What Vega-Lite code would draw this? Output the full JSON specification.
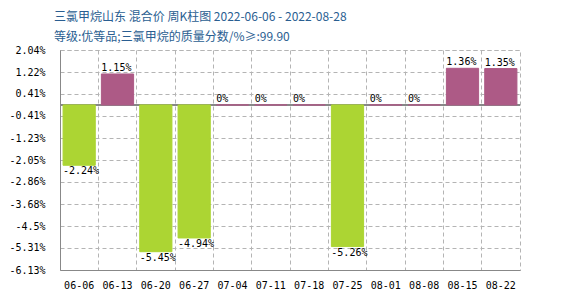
{
  "$schema": "https://vega.github.io/schema/vega-lite/v6.json",
  "width": 460,
  "height": 220,
  "autosize": {"type": "none"},
  "padding": {"left": 60, "top": 50, "right": 50, "bottom": 30},
  "background": "white",
  "title": {
    "text": ["三氯甲烷山东 混合价 周K柱图 2022-06-06 - 2022-08-28", "等级:优等品;三氯甲烷的质量分数/%≥:99.90"],
    "anchor": "start",
    "frame": "group",
    "dx": -6,
    "offset": 1,
    "font": "Noto Sans CJK SC",
    "fontSize": 12,
    "fontWeight": "normal",
    "lineHeight": 20,
    "color": "#2a5e91"
  },
  "data": {
    "values": [
      {"week": "06-06", "v": -2.24, "label": "-2.24%"},
      {"week": "06-13", "v": 1.15, "label": "1.15%"},
      {"week": "06-20", "v": -5.45, "label": "-5.45%"},
      {"week": "06-27", "v": -4.94, "label": "-4.94%"},
      {"week": "07-04", "v": 0, "label": "0%"},
      {"week": "07-11", "v": 0, "label": "0%"},
      {"week": "07-18", "v": 0, "label": "0%"},
      {"week": "07-25", "v": -5.26, "label": "-5.26%"},
      {"week": "08-01", "v": 0, "label": "0%"},
      {"week": "08-08", "v": 0, "label": "0%"},
      {"week": "08-15", "v": 1.36, "label": "1.36%"},
      {"week": "08-22", "v": 1.35, "label": "1.35%"}
    ]
  },
  "encoding": {
    "x": {
      "field": "week", "type": "ordinal", "sort": null,
      "scale": {"paddingInner": 0, "paddingOuter": 0},
      "axis": {
        "title": null, "labelAngle": 0, "ticks": false, "labelPadding": 10,
        "labelFont": "DejaVu Sans Mono", "labelFontSize": 10, "labelColor": "#000",
        "domainColor": "#888", "grid": true, "bandPosition": 0,
        "gridColor": "#b4b4b4", "gridDash": [4, 3], "gridOpacity": 1, "gridWidth": 1
      }
    },
    "y": {
      "field": "v", "type": "quantitative",
      "scale": {"domain": [-6.13, 2.04], "nice": false, "zero": false},
      "axis": {
        "title": null, "ticks": false, "labelPadding": 15, "grid": true,
        "labelOverlap": false,
        "values": [2.04, 1.22, 0.41, -0.41, -1.23, -2.05, -2.86, -3.68, -4.5, -5.31, -6.13],
        "labelExpr": "datum.value + '%'",
        "labelFont": "DejaVu Sans Mono", "labelFontSize": 10, "labelColor": "#000",
        "domainColor": "#888", "gridColor": "#b4b4b4", "gridDash": [4, 3], "gridOpacity": 1, "gridWidth": 1
      }
    }
  },
  "layer": [
    {
      "mark": {"type": "rule", "color": "#888", "strokeWidth": 1},
      "encoding": {
        "x": null,
        "y": {
          "datum": 0, "type": "quantitative",
          "axis": {
            "title": null, "ticks": false, "labelPadding": 15, "grid": true,
            "labelOverlap": false,
            "values": [2.04, 1.22, 0.41, -0.41, -1.23, -2.05, -2.86, -3.68, -4.5, -5.31, -6.13],
            "labelExpr": "datum.value + '%'",
            "labelFont": "DejaVu Sans Mono", "labelFontSize": 10, "labelColor": "#000",
            "domainColor": "#888", "gridColor": "#b4b4b4", "gridDash": [4, 3], "gridOpacity": 1, "gridWidth": 1
          }
        }
      }
    },
    {
      "mark": {"type": "bar", "width": {"band": 0.84}, "strokeWidth": 1},
      "encoding": {
        "color": {"condition": {"test": "datum.v < 0", "value": "#acd533"}, "value": "#ad5a86"},
        "stroke": {"condition": {"test": "datum.v < 0", "value": "#acd533"}, "value": "#ad5a86"}
      }
    },
    {
      "transform": [{"filter": "datum.v >= 0"}],
      "mark": {"type": "text", "align": "left", "baseline": "bottom", "dx": 3, "dy": -1, "font": "DejaVu Sans Mono", "fontSize": 10, "color": "#000"},
      "encoding": {
        "x": {"field": "week", "type": "ordinal", "sort": null, "bandPosition": 0},
        "text": {"field": "label"}
      }
    },
    {
      "transform": [{"filter": "datum.v < 0"}],
      "mark": {"type": "text", "align": "left", "baseline": "top", "dx": 3, "dy": 1, "font": "DejaVu Sans Mono", "fontSize": 10, "color": "#000"},
      "encoding": {
        "x": {"field": "week", "type": "ordinal", "sort": null, "bandPosition": 0},
        "text": {"field": "label"}
      }
    }
  ],
  "config": {
    "view": {"stroke": "#b4b4b4", "strokeDash": [4, 3]}
  }
}
